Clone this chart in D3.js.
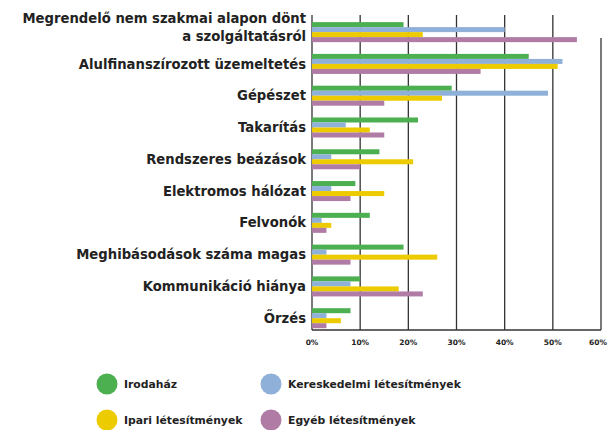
<!DOCTYPE html>
<html>
<head>
<meta charset="utf-8">
<script src="https://cdn.jsdelivr.net/npm/d3@7"></script>
<style>
  body { margin: 0; background: #fff; }
  svg { font-family: "DejaVu Sans", sans-serif; font-weight: bold; }
</style>
</head>
<body>
<svg id="chart" width="608" height="430"></svg>
<script>
var categories = [
  ["Megrendelő nem szakmai alapon dönt", "a szolgáltatásról"],
  ["Alulfinanszírozott üzemeltetés"],
  ["Gépészet"],
  ["Takarítás"],
  ["Rendszeres beázások"],
  ["Elektromos hálózat"],
  ["Felvonók"],
  ["Meghibásodások száma magas"],
  ["Kommunikáció hiánya"],
  ["Őrzés"]
];
var seriesNames = ["Irodaház", "Kereskedelmi létesítmények", "Ipari létesítmények", "Egyéb létesítmények"];
var seriesColors = ["#4caf50", "#8fb0d8", "#eccb00", "#b07ca6"];
var irodahaz = [19, 45, 29, 22, 14, 9, 12, 19, 10, 8];
var kereskedelmi = [40, 52, 49, 7, 4, 4, 2, 3, 8, 3];
var ipari = [23, 51, 27, 12, 21, 15, 4, 26, 18, 6];
var egyeb = [55, 35, 15, 15, 10, 8, 3, 8, 23, 3];
var xTicks = [0, 10, 20, 30, 40, 50, 60];

var series = [irodahaz, kereskedelmi, ipari, egyeb];
var svg = d3.select("#chart");
var textColor = "#222";

var x = d3.scaleLinear().domain([0, 60]).range([312, 601]);
var y = d3.scaleBand().domain(d3.range(categories.length))
  .range([15, 330]).paddingInner(0.37).paddingOuter(0.14).align(0.8);
var ySub = d3.scaleBand().domain(d3.range(series.length)).range([0, y.bandwidth()]);

// grid lines
svg.append("g").selectAll("line").data(xTicks)
  .enter().append("line")
    .attr("x1", function(d) { return x(d); })
    .attr("x2", function(d) { return x(d); })
    .attr("y1", function(d) { return d === 60 ? 38 : 15; })
    .attr("y2", 330)
    .attr("stroke", "#333")
    .attr("stroke-width", 1.3);

svg.append("line")
  .attr("x1", x(0)).attr("x2", x(60))
  .attr("y1", 330).attr("y2", 330)
  .attr("stroke", "#333").attr("stroke-width", 1.3);

// bars
var groups = svg.append("g").selectAll("g").data(categories)
  .enter().append("g")
    .attr("transform", function(d, i) { return "translate(0," + y(i) + ")"; });

groups.selectAll("rect").data(function(d, i) {
    return series.map(function(s, k) { return { k: k, v: s[i] }; });
  })
  .enter().append("rect")
    .attr("x", x(0))
    .attr("y", function(d) { return ySub(d.k); })
    .attr("width", function(d) { return x(d.v) - x(0); })
    .attr("height", ySub.bandwidth())
    .attr("fill", function(d) { return seriesColors[d.k]; });

// category labels
groups.append("text")
  .attr("text-anchor", "end")
  .attr("fill", textColor)
  .attr("font-size", 13.2)
  .each(function(d) {
    var t = d3.select(this);
    var mid = y.bandwidth() / 2;
    var lineH = 18.5;
    var start = mid - (d.length - 1) * lineH / 2 - (d.length > 1 ? 5 : 0);
    d.forEach(function(line, j) {
      t.append("tspan")
        .attr("x", 306)
        .attr("y", start + j * lineH)
        .attr("dy", "0.35em")
        .text(line);
    });
  });

// x tick labels (last one nudged so it stays inside the frame)
svg.append("g").selectAll("text").data(xTicks)
  .enter().append("text")
    .attr("x", function(d) { return Math.min(x(d), 598); })
    .attr("y", 342)
    .attr("dy", "0.35em")
    .attr("text-anchor", "middle")
    .attr("font-size", 7.5)
    .attr("fill", textColor)
    .text(function(d) { return d + "%"; });

// legend
var legendPos = [[107, 384], [271, 384], [107, 420], [271, 420]];
var legend = svg.append("g").selectAll("g").data(seriesNames)
  .enter().append("g")
    .attr("transform", function(d, i) { return "translate(" + legendPos[i][0] + "," + legendPos[i][1] + ")"; });
legend.append("circle")
  .attr("r", 10.5)
  .attr("fill", function(d, i) { return seriesColors[i]; });
legend.append("text")
  .attr("x", 17)
  .attr("dy", "0.35em")
  .attr("font-size", 10.8)
  .attr("fill", textColor)
  .text(function(d) { return d; });
</script>
</body>
</html>
